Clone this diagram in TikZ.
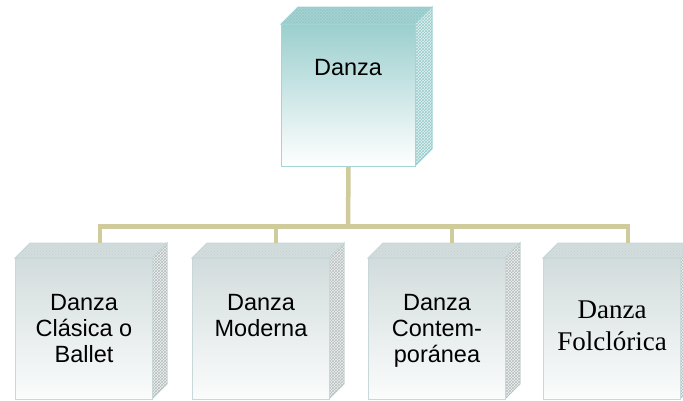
\documentclass[tikz,border=0pt]{standalone}
\usepackage{fontspec}
\setmainfont{Liberation Sans}
\newfontfamily\serifx{Liberation Serif}
\usetikzlibrary{patterns}
\definecolor{connc}{HTML}{CFCB9B}
\definecolor{maint}{HTML}{9BCFCE}
\definecolor{mainb}{HTML}{A2D6D6}
\definecolor{childt}{HTML}{D2DCDC}
\definecolor{childbot}{HTML}{FBFCFC}
\definecolor{childb}{HTML}{C8D8D8}
\definecolor{HTMLa}{HTML}{A8D5D5}
\definecolor{HTMLb}{HTML}{96C9C9}
\definecolor{HTMLc}{HTML}{E2F1F1}
\definecolor{HTMLd}{HTML}{9ACCCC}
\definecolor{HTMLe}{HTML}{D4DDDD}
\definecolor{HTMLf}{HTML}{C6D0D0}
\definecolor{HTMLg}{HTML}{EEF1F1}
\definecolor{HTMLh}{HTML}{B6BEBE}
\newcommand{\boxparts}[6]{%
  \path[#6top] (#1,#2) -- (#1+#5,#2-#5) -- (#3+#5,#2-#5) -- (#3,#2) -- cycle;
  \path[#6side] (#3,#2) -- (#3+#5,#2-#5) -- (#3+#5,#4-#5) -- (#3,#4) -- cycle;
}
\begin{document}
\begin{tikzpicture}[x=1pt,y=-1pt,
  conn/.style={draw=connc, line width=4.5pt},
  mainface/.style={draw=mainb, line width=1pt, top color=maint, bottom color=white,
    minimum width=134pt, minimum height=142pt, inner sep=0pt, anchor=north west},
  childface/.style={draw=childb, line width=1pt, top color=childt, bottom color=childbot,
    minimum width=137pt, minimum height=141pt, inner sep=0pt, anchor=north west},
  maintop/.style={fill=HTMLa, draw=mainb, line width=1pt, postaction={pattern=crosshatch, pattern color=HTMLb}},
  mainside/.style={fill=HTMLc, draw=mainb, line width=1pt, postaction={pattern=crosshatch, pattern color=HTMLd}},
  childtop/.style={fill=HTMLe, draw=childb, line width=1pt, postaction={pattern=crosshatch dots, pattern color=HTMLf}},
  childside/.style={fill=HTMLg, draw=childb, line width=1pt, postaction={pattern=crosshatch, pattern color=HTMLh}},
  lbl/.style={font=\fontsize{23.5}{26}\selectfont, align=center, inner sep=0pt, anchor=north},
  slbl/.style={font=\serifx\fontsize{27}{32}\selectfont, align=center, inner sep=0pt, anchor=north}
]
\useasboundingbox (0,0) rectangle (683,400);
\fill[white] (0,0) rectangle (683,400);
% main box
\boxparts{281}{24}{415}{166}{17}{main}
\node[mainface] (top) at (281,24) {};
\node[lbl] (ttop) at (348,59) {Danza};
% children
\boxparts{15}{258}{152}{399}{15}{child}
\node[childface] (c1) at (15,258) {};
\boxparts{192}{258}{329}{399}{15}{child}
\node[childface] (c2) at (192,258) {};
\boxparts{368}{258}{505}{399}{15}{child}
\node[childface] (c3) at (368,258) {};
\boxparts{543}{258}{680}{399}{15}{child}
\node[childface] (c4) at (543,258) {};
\node[lbl] (t1) at (c1.north |- 0,294) {Danza\\Clásica o\\Ballet};
\node[lbl] (t2) at (c2.north |- 0,294) {Danza\\Moderna};
\node[lbl] (t3) at (c3.north |- 0,294) {Danza\\Contem-\\poránea};
\node[slbl] (t4) at (c4.north |- 0,301) {Danza\\Folclórica};
% connectors
\coordinate (k1) at (100,243);
\coordinate (k2) at (276,243);
\coordinate (k3) at (452,243);
\coordinate (k4) at (628,243);
\coordinate (bus) at (348,226.5);
\draw[conn] (k1) |- (bus -| k4) -- (k4);
\draw[conn] (k2) -- (k2 |- bus);
\draw[conn] (k3) -- (k3 |- bus);
\draw[conn] (top.south) -- (bus);
\end{tikzpicture}
\end{document}
